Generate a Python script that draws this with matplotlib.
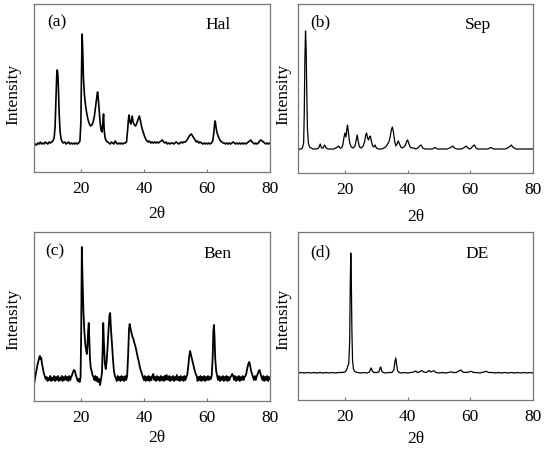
import numpy as np
import matplotlib
matplotlib.use("Agg")
import matplotlib.pyplot as plt

# XRD patterns: (2theta, intensity in arbitrary units)
hal_pattern = [
    (5.0, 26), (5.4, 28), (5.8, 27), (6.2, 29), (6.6, 28), (7.0, 30), (7.4, 28), (7.8, 29),
    (8.2, 28), (8.6, 30), (9.0, 29), (9.4, 28), (9.8, 30), (10.2, 29), (10.6, 30), (11.0, 31),
    (11.4, 34), (11.7, 45), (12.0, 75), (12.2, 95), (12.4, 102), (12.6, 96), (12.8, 80),
    (13.0, 58), (13.3, 40), (13.6, 33), (14.0, 30), (14.4, 29), (14.8, 30), (15.2, 28),
    (15.6, 29), (16.0, 30), (16.4, 28), (16.8, 29), (17.2, 28), (17.6, 29), (18.0, 28),
    (18.4, 29), (18.8, 28), (19.2, 29), (19.6, 31), (19.9, 50), (20.1, 100), (20.3, 138),
    (20.5, 120), (20.7, 95), (21.0, 78), (21.4, 66), (21.8, 58), (22.2, 52), (22.6, 48),
    (23.0, 46), (23.4, 47), (23.8, 50), (24.2, 56), (24.6, 66), (25.0, 76), (25.2, 80),
    (25.4, 75), (25.7, 62), (26.0, 50), (26.3, 42), (26.6, 40), (26.9, 50), (27.1, 58),
    (27.3, 42), (27.6, 34), (28.0, 31), (28.4, 30), (28.8, 29), (29.2, 28), (29.6, 30),
    (30.0, 29), (30.4, 28), (30.8, 31), (31.2, 29), (31.6, 28), (32.0, 29), (32.4, 28),
    (32.8, 29), (33.2, 28), (33.6, 29), (34.0, 29), (34.4, 30), (34.7, 40), (35.0, 52),
    (35.2, 57), (35.5, 50), (35.8, 48), (36.0, 52), (36.2, 56), (36.5, 50), (36.9, 47),
    (37.3, 46), (37.7, 49), (38.1, 53), (38.5, 56), (38.9, 50), (39.3, 44), (39.7, 40),
    (40.1, 36), (40.5, 33), (40.9, 31), (41.3, 30), (41.7, 31), (42.1, 29), (42.5, 30),
    (42.9, 29), (43.3, 30), (43.7, 29), (44.1, 30), (44.5, 29), (44.9, 30), (45.4, 31),
    (45.8, 32), (46.2, 30), (46.6, 29), (47.0, 30), (47.4, 28), (47.8, 29), (48.2, 28),
    (48.6, 29), (49.0, 29), (49.4, 28), (49.8, 29), (50.2, 30), (50.6, 29), (51.0, 28),
    (51.4, 29), (51.8, 30), (52.2, 29), (52.6, 30), (53.0, 30), (53.4, 31), (53.8, 33),
    (54.2, 35), (54.6, 37), (55.0, 38), (55.4, 36), (55.8, 34), (56.2, 32), (56.6, 30),
    (57.0, 31), (57.4, 29), (57.8, 30), (58.2, 29), (58.6, 28), (59.0, 29), (59.4, 28),
    (59.8, 29), (60.2, 28), (60.6, 29), (61.0, 28), (61.4, 29), (61.8, 31), (62.1, 38),
    (62.4, 48), (62.6, 51), (62.8, 46), (63.1, 40), (63.5, 36), (63.9, 33), (64.3, 31),
    (64.7, 30), (65.1, 29), (65.5, 29), (65.9, 28), (66.3, 29), (66.7, 28), (67.1, 29),
    (67.5, 28), (67.9, 29), (68.3, 30), (68.7, 29), (69.1, 28), (69.5, 29), (69.9, 28),
    (70.3, 29), (70.7, 28), (71.1, 29), (71.5, 28), (71.9, 29), (72.3, 28), (72.7, 29),
    (73.1, 30), (73.5, 31), (73.9, 32), (74.3, 30), (74.7, 29), (75.1, 28), (75.5, 29),
    (75.9, 28), (76.3, 29), (76.7, 31), (77.1, 32), (77.5, 31), (77.9, 30), (78.3, 29),
    (78.7, 28), (79.1, 29), (79.5, 28), (80.0, 29),
]

sep_pattern = [
    (5.0, 23), (5.5, 24), (6.0, 24), (6.4, 25), (6.8, 30), (7.0, 60), (7.2, 115), (7.4, 142),
    (7.6, 125), (7.8, 80), (8.0, 45), (8.3, 30), (8.7, 26), (9.2, 25), (9.8, 24), (10.4, 24),
    (11.0, 24), (11.6, 25), (12.1, 29), (12.5, 25), (13.0, 25), (13.5, 28), (14.0, 25),
    (14.6, 24), (15.2, 24), (15.8, 24), (16.4, 24), (17.0, 25), (17.6, 26), (18.0, 27),
    (18.4, 25), (18.9, 25), (19.3, 28), (19.7, 36), (20.0, 40), (20.3, 36), (20.6, 44),
    (20.8, 48), (21.1, 40), (21.5, 30), (22.0, 26), (22.6, 25), (23.2, 27), (23.6, 33),
    (23.9, 38), (24.2, 32), (24.6, 26), (25.2, 25), (25.8, 27), (26.3, 32), (26.6, 38),
    (26.9, 40), (27.2, 35), (27.5, 33), (27.8, 36), (28.1, 37), (28.4, 32), (28.8, 27),
    (29.2, 26), (29.6, 28), (30.0, 25), (30.6, 24), (31.2, 24), (31.8, 24), (32.4, 25),
    (33.0, 26), (33.6, 29), (34.0, 31), (34.4, 36), (34.8, 43), (35.1, 46), (35.4, 42),
    (35.8, 33), (36.2, 27), (36.6, 29), (37.0, 32), (37.4, 29), (37.8, 26), (38.3, 25),
    (38.8, 26), (39.3, 28), (39.7, 32), (40.0, 33), (40.3, 30), (40.8, 26), (41.4, 25),
    (42.0, 25), (42.6, 24), (43.2, 25), (43.8, 27), (44.3, 28), (44.8, 25), (45.5, 24),
    (46.2, 24), (47.0, 24), (47.8, 24), (48.4, 25), (48.8, 25.5), (49.4, 24), (50.2, 24),
    (51.0, 24), (51.8, 24), (52.6, 24), (53.4, 25), (54.0, 26), (54.4, 27), (54.9, 25),
    (55.6, 24), (56.4, 24), (57.2, 24), (57.8, 25), (58.3, 26), (58.7, 27), (59.2, 25),
    (59.8, 24), (60.3, 25), (60.8, 27), (61.3, 28), (61.8, 25), (62.4, 24), (63.2, 24),
    (64.0, 24), (64.8, 24), (65.6, 24), (66.2, 25), (66.7, 25.5), (67.3, 24), (68.0, 24),
    (68.8, 24), (69.6, 24), (70.4, 24), (71.2, 24), (71.8, 25), (72.4, 26), (72.8, 27),
    (73.1, 28), (73.5, 26), (74.0, 25), (74.6, 24), (75.4, 24), (76.2, 24), (77.0, 24),
    (77.8, 24), (78.6, 24), (79.4, 24), (80.0, 24),
]

ben_pattern = [
    (5.0, 16), (5.2, 20), (5.5, 26), (5.8, 31), (6.1, 36), (6.4, 40), (6.7, 44), (6.9, 45),
    (7.1, 42), (7.3, 43), (7.5, 38), (7.8, 33), (8.1, 28), (8.4, 25), (8.7, 22), (9.0, 24),
    (9.3, 20), (9.6, 23), (9.9, 21), (10.2, 25), (10.5, 20), (10.8, 23), (11.1, 21),
    (11.4, 25), (11.7, 20), (12.0, 24), (12.3, 21), (12.6, 25), (12.9, 20), (13.2, 23),
    (13.5, 21), (13.8, 25), (14.1, 20), (14.4, 24), (14.7, 21), (15.0, 25), (15.3, 21),
    (15.6, 24), (15.9, 20), (16.2, 25), (16.5, 21), (16.8, 24), (17.1, 26), (17.4, 29),
    (17.7, 31), (18.0, 30), (18.3, 26), (18.6, 23), (18.9, 20), (19.2, 22), (19.5, 19),
    (19.8, 24), (20.0, 70), (20.2, 154), (20.4, 125), (20.7, 90), (21.0, 70), (21.3, 57),
    (21.6, 50), (21.8, 47), (22.0, 55), (22.2, 70), (22.4, 78), (22.6, 60), (22.8, 42),
    (23.0, 34), (23.3, 30), (23.6, 26), (23.9, 24), (24.2, 21), (24.5, 25), (24.8, 20),
    (25.1, 24), (25.4, 19), (25.7, 22), (26.0, 16), (26.3, 22), (26.6, 28), (26.8, 50),
    (27.0, 78), (27.2, 60), (27.5, 38), (27.8, 32), (28.1, 40), (28.4, 55), (28.7, 72),
    (29.0, 86), (29.2, 88), (29.5, 70), (29.8, 56), (30.1, 42), (30.4, 30), (30.7, 25),
    (31.0, 23), (31.3, 20), (31.6, 25), (31.9, 21), (32.2, 24), (32.5, 20), (32.8, 25),
    (33.1, 21), (33.4, 24), (33.7, 20), (34.0, 25), (34.3, 21), (34.6, 25), (34.9, 45),
    (35.2, 72), (35.4, 77), (35.7, 72), (36.0, 68), (36.3, 64), (36.6, 62), (36.9, 58),
    (37.2, 55), (37.5, 51), (37.8, 46), (38.1, 42), (38.4, 38), (38.7, 33), (39.0, 30),
    (39.3, 27), (39.6, 24), (39.9, 21), (40.2, 25), (40.5, 20), (40.8, 24), (41.1, 21),
    (41.4, 25), (41.7, 20), (42.0, 24), (42.3, 21), (42.6, 25), (42.9, 27), (43.2, 21),
    (43.5, 24), (43.8, 20), (44.1, 25), (44.4, 21), (44.7, 24), (45.0, 20), (45.3, 25),
    (45.6, 21), (45.9, 24), (46.2, 20), (46.5, 25), (46.8, 21), (47.1, 26), (47.4, 22),
    (47.7, 21), (48.0, 25), (48.3, 20), (48.6, 24), (48.9, 21), (49.2, 25), (49.5, 20),
    (49.8, 24), (50.1, 21), (50.4, 26), (50.7, 21), (51.0, 24), (51.3, 20), (51.6, 25),
    (51.9, 21), (52.2, 24), (52.5, 20), (52.8, 25), (53.1, 21), (53.4, 24), (53.7, 26),
    (54.0, 34), (54.3, 44), (54.6, 50), (54.9, 46), (55.2, 42), (55.5, 38), (55.8, 34),
    (56.1, 30), (56.4, 27), (56.7, 25), (57.0, 20), (57.3, 24), (57.6, 21), (57.9, 25),
    (58.2, 20), (58.5, 24), (58.8, 21), (59.1, 25), (59.4, 20), (59.7, 24), (60.0, 21),
    (60.3, 25), (60.6, 21), (60.9, 24), (61.2, 22), (61.5, 26), (61.8, 45), (62.0, 70),
    (62.2, 76), (62.4, 62), (62.6, 42), (62.9, 30), (63.2, 25), (63.5, 21), (63.8, 25),
    (64.1, 20), (64.4, 24), (64.7, 21), (65.0, 25), (65.3, 20), (65.6, 24), (65.9, 21),
    (66.2, 25), (66.5, 20), (66.8, 24), (67.1, 21), (67.4, 24), (67.7, 25), (68.0, 27),
    (68.3, 25), (68.6, 21), (68.9, 25), (69.2, 20), (69.5, 24), (69.8, 21), (70.1, 25),
    (70.4, 20), (70.7, 24), (71.0, 21), (71.3, 25), (71.6, 21), (71.9, 24), (72.2, 25),
    (72.5, 28), (72.8, 33), (73.1, 37), (73.4, 39), (73.7, 35), (74.0, 30), (74.3, 27),
    (74.6, 24), (74.9, 21), (75.2, 25), (75.5, 21), (75.8, 25), (76.1, 27), (76.4, 30),
    (76.7, 31), (77.0, 27), (77.3, 24), (77.6, 21), (77.9, 25), (78.2, 20), (78.5, 24),
    (78.8, 21), (79.1, 25), (79.4, 20), (79.7, 24), (80.0, 22),
]

de_pattern = [
    (5.0, 27), (6.0, 27.5), (7.0, 27), (8.0, 27.5), (9.0, 27), (10.0, 27.5), (11.0, 27),
    (12.0, 27.5), (13.0, 27), (14.0, 27.5), (15.0, 27), (16.0, 27.5), (17.0, 27),
    (18.0, 27.5), (19.0, 27.5), (20.0, 28), (20.5, 30), (20.9, 34), (21.2, 36), (21.5, 60),
    (21.7, 120), (21.85, 147), (22.0, 125), (22.2, 70), (22.4, 40), (22.7, 31), (23.0, 29),
    (23.5, 28), (24.0, 27.5), (25.0, 27), (26.0, 27.5), (27.0, 27), (27.8, 28), (28.2, 31),
    (28.4, 32), (28.7, 29), (29.2, 27.5), (30.0, 27.5), (30.8, 28), (31.2, 32), (31.4, 33),
    (31.7, 29), (32.2, 27.5), (33.0, 27), (34.0, 27.5), (35.0, 27.5), (35.6, 30), (35.9, 38),
    (36.2, 42), (36.5, 35), (36.8, 29), (37.3, 27.5), (38.0, 27), (39.0, 27.5), (40.0, 27),
    (41.0, 27.5), (42.0, 28), (42.6, 29), (43.1, 27.5), (43.8, 28), (44.5, 29.5), (45.1, 28),
    (46.0, 27.5), (46.6, 29), (46.9, 29.5), (47.4, 28), (48.0, 29), (48.5, 29), (49.0, 27.5),
    (50.0, 27), (51.0, 27.5), (52.0, 27), (53.0, 27.5), (53.6, 28), (54.0, 28), (54.6, 27.5),
    (55.5, 27.5), (56.3, 29), (57.0, 30), (57.6, 28), (58.5, 27.5), (59.5, 28), (60.3, 28.7),
    (61.0, 27.5), (62.0, 27.5), (63.0, 27), (64.3, 28), (65.1, 28.7), (65.8, 27.5),
    (67.0, 27.5), (68.0, 27), (69.0, 27.5), (70.0, 27), (71.0, 27.5), (72.0, 27),
    (73.0, 27.5), (74.0, 27), (75.0, 27.5), (76.0, 27), (77.0, 27.5), (78.0, 27),
    (79.0, 27.5), (80.0, 27),
]

panel_letters = ["(a)", "(b)", "(c)", "(d)"]
sample_names = ["Hal", "Sep", "Ben", "DE"]
patterns = [hal_pattern, sep_pattern, ben_pattern, de_pattern]
x_ticks = [20, 40, 60, 80]

plt.rcParams["font.family"] = ["Liberation Serif", "DejaVu Serif"]
FS = 12.5
W, H = 550, 452

fig = plt.figure(figsize=(W / 100, H / 100), dpi=100)

# axes boxes in pixels: left, top, right, bottom
boxes = [(34, 5, 270, 173), (298, 5, 533, 174), (34, 233, 270, 402), (298, 233, 533, 401)]
line_widths = [1.2, 0.9, 1.3, 0.9]
# label positions in pixels
letter_pos = [(57, 22), (320, 22), (55, 251), (320, 252)]
name_pos = [(218, 25), (478, 25), (218, 254), (477, 254)]
ylab_pos = [(13, 94), (283, 94), (13, 319), (283, 319)]
xlab_pos = [(157, 214), (416, 217), (157, 438), (416, 439)]

for i, pat in enumerate(patterns):
    l, t, r, b = boxes[i]
    ax = fig.add_axes([l / W, 1 - b / H, (r - l) / W, (b - t) / H])
    two_theta, counts = np.array(pat).T
    ax.plot(two_theta, counts, color="black", lw=line_widths[i])
    ax.set_xlim(5, 80)
    ax.set_ylim(0, b - t)
    ax.set_xticks(x_ticks)
    ax.set_yticks([])
    ax.tick_params(axis="x", direction="in", length=2.5, width=0.8, color="#777777",
                   labelsize=FS, pad=6)
    for s in ax.spines.values():
        s.set_color("#777777")
        s.set_linewidth(0.9)

    fig.text(letter_pos[i][0] / W, 1 - letter_pos[i][1] / H, panel_letters[i],
             ha="center", va="center", fontsize=FS)
    fig.text(name_pos[i][0] / W, 1 - name_pos[i][1] / H, sample_names[i],
             ha="center", va="center", fontsize=FS)
    fig.text(ylab_pos[i][0] / W, 1 - ylab_pos[i][1] / H, "Intensity",
             ha="center", va="center", rotation=90, fontsize=FS)
    fig.text(xlab_pos[i][0] / W, 1 - xlab_pos[i][1] / H, "2θ",
             ha="center", va="center", fontsize=FS)

fig.savefig("out.png", dpi=100)
